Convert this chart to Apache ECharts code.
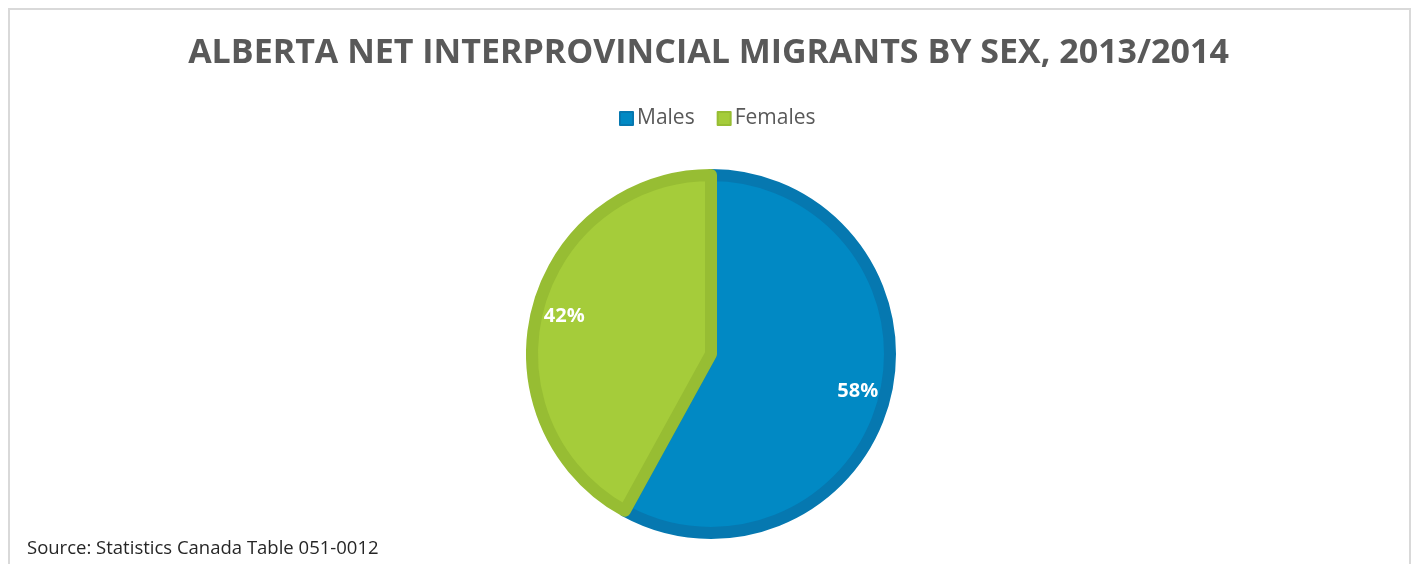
<!DOCTYPE html>
<html>
<head>
<meta charset="utf-8">
<script src="https://cdn.jsdelivr.net/npm/echarts@6/dist/echarts.min.js"></script>
<style>
  html, body { margin: 0; padding: 0; background: #fff; }
  #frame { position: absolute; left: 8px; top: 8px; width: 1403px; height: 600px; border: 2px solid #d9d9d9; box-sizing: border-box; }
  #chart { position: absolute; left: 0; top: 0; width: 1417px; height: 564px; }
</style>
</head>
<body>
<div id="frame"></div>
<div id="chart"></div>
<script>
const titleText = 'ALBERTA NET INTERPROVINCIAL MIGRANTS BY SEX, 2013/2014';
const sourceText = 'Source: Statistics Canada Table 051-0012';
const categories = ['Males', 'Females'];
const shares = [58, 42];
const fillColors = ['#0189c4', '#a5cc3a'];
const edgeColors = ['#0678b0', '#97bd33'];

const myChart = echarts.init(document.getElementById('chart'));

const pieData = categories.map((name, i) => ({
    name,
    value: shares[i],
    itemStyle: { color: fillColors[i], borderColor: edgeColors[i] }
}));

myChart.setOption({
    animation: false,
    title: [{
        text: titleText,
        left: 'center',
        top: 36,
        padding: 0,
        textStyle: { fontFamily: 'Open Sans', fontWeight: 'bold', fontSize: 34, color: '#595959' }
    }, {
        text: sourceText,
        left: 27,
        top: 539,
        padding: 0,
        textStyle: { fontFamily: 'Open Sans', fontWeight: 'normal', fontSize: 18.5, color: '#262626' }
    }],
    legend: {
        data: categories,
        top: 103,
        left: 614,
        icon: 'rect',
        itemWidth: 13,
        itemHeight: 13,
        itemGap: 22,
        textStyle: { fontFamily: 'Open Sans', fontSize: 21, color: '#595959', padding: [0, 0, 0, -1] }
    },
    series: [{
        type: 'pie',
        center: [711, 354],
        radius: [0, 179],
        startAngle: 90,
        clockwise: true,
        data: pieData,
        itemStyle: { borderWidth: 12 },
        label: { show: false },
        labelLine: { show: false },
        emphasis: { disabled: true }
    }, {
        // transparent ring only to place the percentage labels
        type: 'pie',
        center: [711, 354],
        radius: [112, 185],
        startAngle: 90,
        clockwise: true,
        silent: true,
        data: categories.map((name, i) => ({ name, value: shares[i] })),
        itemStyle: { color: 'transparent' },
        label: {
            position: 'inside',
            formatter: '{c}%',
            fontFamily: 'Open Sans',
            fontWeight: 'bold',
            fontSize: 20,
            color: '#ffffff'
        },
        labelLine: { show: false },
        emphasis: { disabled: true }
    }]
});
</script>
</body>
</html>
